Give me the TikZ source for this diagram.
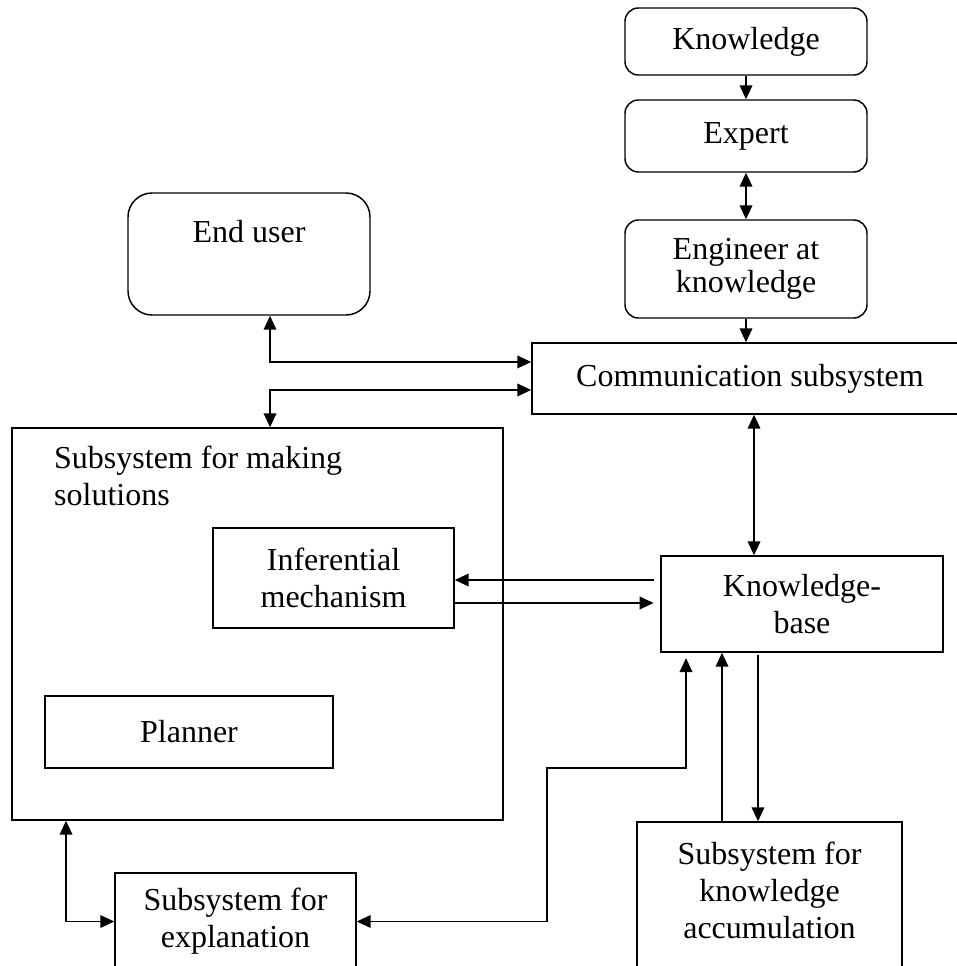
\documentclass[tikz,border=0pt]{standalone}
\usepackage{fontspec}
\setmainfont{Liberation Serif}
\usetikzlibrary{arrows.meta}

\begin{document}
\begin{tikzpicture}[x=0.75pt, y=-0.75pt,
        >={Triangle[length=10.5pt, width=9.5pt]},
        every node/.style={font=\fontsize{24}{27.75}\selectfont},
        rbox/.style={draw, rounded corners=10pt, line width=1.1pt, minimum width=181.5pt, align=center},
        box/.style={draw, line width=1.1pt, align=center},
        link/.style={line width=1.2pt}
    ]
        \useasboundingbox (0,0) rectangle (956,966);
        \node[rbox, minimum height=50.25pt] (know) at (746,41.5) {Knowledge};
        \node[rbox, minimum height=54pt] (expert) at (746,136) {Expert};
        \node[rbox, minimum height=73.5pt, font=\fontsize{24}{25}\selectfont] (engineer) at (746,269) {Engineer at\\ knowledge};
        \node[box, minimum width=327pt, minimum height=53.25pt] (comm) at (750,378.5) {Communication subsystem};
        \node[rbox, rounded corners=18pt, minimum height=91.5pt, label={[yshift=16.5pt]center:End user}] (enduser) at (249,254) {};
        \node[box, minimum width=368.25pt, minimum height=294pt,
            label={[anchor=north west, align=left, inner sep=0pt, xshift=32pt, yshift=-14pt]north west:Subsystem for making\\ solutions}] (solve) at (257.5,624) {};
        \node[box, minimum width=180.75pt, minimum height=75pt] (infer) at (333.5,578) {Inferential\\ mechanism};
        \node[box, minimum width=216pt, minimum height=54pt] (planner) at (189,732) {Planner};
        \node[box, minimum width=211.5pt, minimum height=72pt] (kb) at (802,604) {Knowledge-\\ base};
        \node[box, minimum width=180.75pt, minimum height=72.75pt] (expl) at (235.5,921.5) {Subsystem for\\ explanation};
        \node[box, minimum width=198.75pt, minimum height=114.75pt, text depth=12pt] (accum) at (769.5,898.5) {Subsystem for\\ knowledge\\ accumulation};
        \coordinate (bend) at (547,768);
        \draw[link, ->]  (know) -- (expert);
        \draw[link, <->] (expert) -- (engineer);
        \draw[link, ->]  (engineer) -- (engineer |- comm.north);
        \draw[link, <->] ([xshift=15.75pt]enduser.south) |- ([yshift=12.4pt]comm.west);
        \draw[link, <->] ([yshift=-8.6pt]comm.west) -| ([xshift=9.4pt]solve.north);
        \draw[link, <->] ([xshift=-36pt]kb.north) -- ([xshift=-36pt]kb.north |- comm.south);
        \draw[link, ->]  ([xshift=-5pt, yshift=18pt]kb.west) -- ([yshift=18pt]kb.west -| infer.east);
        \draw[link, ->]  ([yshift=-18.75pt]infer.east) -- ([yshift=-18.75pt, xshift=-5pt]infer.east -| kb.west);
        \draw[link, ->]  ([xshift=-33pt, yshift=-2pt]kb.south) -- ([xshift=-33pt]kb.south |- accum.north);
        \draw[link, ->]  ([xshift=-60pt]kb.south |- accum.north) -- ([xshift=-60pt]kb.south);
        \draw[link, <->] (expl.east) -| (bend) -| ([xshift=-87pt, yshift=-4pt]kb.south);
        \draw[link, <->] ([xshift=-143.6pt]solve.south) |- (expl.west);
    \end{tikzpicture}
\end{document}
